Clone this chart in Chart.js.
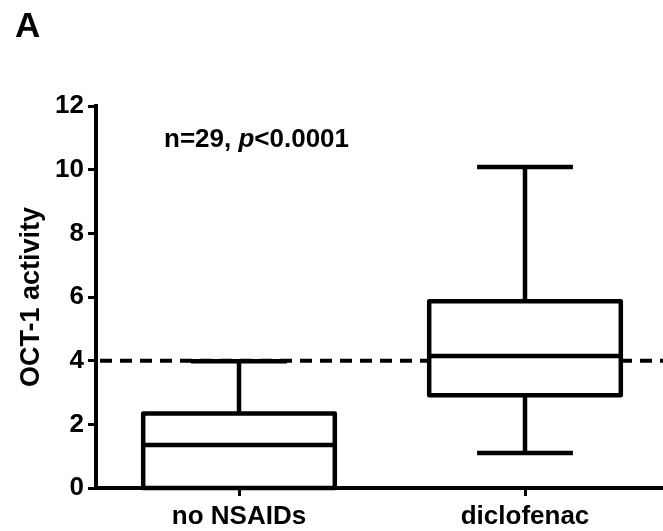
<!DOCTYPE html>
<html>
<head>
<meta charset="utf-8">
<title>OCT-1 activity</title>
<script src="https://cdn.jsdelivr.net/npm/chart.js@4"></script>
<style>
  html, body { margin: 0; padding: 0; background: #fff; overflow: hidden; }
  canvas { display: block; }
</style>
</head>
<body>
<canvas id="chartOct" width="668" height="531"></canvas>
<script>
// Section: Data

const categorias = ["no NSAIDs", "diclofenac"];
const minimos = [0, 1.1];
const cuartil1 = [0, 2.91];
const medianas = [1.35, 4.15];
const cuartil3 = [2.34, 5.87];
const maximos = [3.98, 10.08];
const umbral = 4;
const yTicks = [0, 2, 4, 6, 8, 10, 12];

const fuente = '"Liberation Sans", Arial, sans-serif';

// Section: Box plot drawing

const lineasCaja = {
  id: "lineasCaja",
  beforeDatasetsDraw(chart) {
    // dashed threshold line, hidden inside the boxes by their white fill
    const { ctx, chartArea } = chart;
    const y = chart.scales.y.getPixelForValue(umbral);
    ctx.save();
    ctx.strokeStyle = "#000";
    ctx.lineWidth = 4;
    ctx.setLineDash([12, 8]);
    ctx.beginPath();
    ctx.moveTo(chartArea.left + 4, y);
    ctx.lineTo(chartArea.right, y);
    ctx.stroke();
    ctx.restore();
  },
  afterDatasetsDraw(chart) {
    const { ctx } = chart;
    const escalaY = chart.scales.y;
    const meta = chart.getDatasetMeta(0);

    ctx.save();
    ctx.strokeStyle = "#000";
    ctx.lineWidth = 4.5;
    ctx.lineJoin = "round";

    meta.data.forEach((barra, i) => {
      const izq = barra.x - barra.width / 2;
      const der = barra.x + barra.width / 2;
      const tapa = barra.width * 0.25;
      const yQ1 = escalaY.getPixelForValue(cuartil1[i]);
      const yQ3 = escalaY.getPixelForValue(cuartil3[i]);
      const yMed = escalaY.getPixelForValue(medianas[i]);
      const yMin = escalaY.getPixelForValue(minimos[i]);
      const yMax = escalaY.getPixelForValue(maximos[i]);

      // box
      ctx.strokeRect(izq, yQ3, der - izq, yQ1 - yQ3);

      // median
      ctx.beginPath();
      ctx.moveTo(izq, yMed);
      ctx.lineTo(der, yMed);
      ctx.stroke();

      // upper whisker
      ctx.beginPath();
      ctx.moveTo(barra.x, yQ3);
      ctx.lineTo(barra.x, yMax);
      ctx.moveTo(barra.x - tapa, yMax);
      ctx.lineTo(barra.x + tapa, yMax);
      ctx.stroke();

      // lower whisker, only when it is below the box
      if (minimos[i] < cuartil1[i]) {
        ctx.beginPath();
        ctx.moveTo(barra.x, yQ1);
        ctx.lineTo(barra.x, yMin);
        ctx.moveTo(barra.x - tapa, yMin);
        ctx.lineTo(barra.x + tapa, yMin);
        ctx.stroke();
      }
    });
    ctx.restore();
  },
  afterDraw(chart) {
    const { ctx } = chart;
    ctx.save();
    ctx.fillStyle = "#000";
    ctx.textBaseline = "alphabetic";
    ctx.textAlign = "left";

    // panel letter
    ctx.font = `bold 35px ${fuente}`;
    ctx.fillText("A", 15, 37);

    // sample size and p value, p in italics
    let x = 164;
    const yTexto = 147;
    ctx.font = `bold 26px ${fuente}`;
    ctx.fillText("n=29, ", x, yTexto);
    x += ctx.measureText("n=29, ").width;
    ctx.font = `italic bold 26px ${fuente}`;
    ctx.fillText("p", x, yTexto);
    x += ctx.measureText("p").width;
    ctx.font = `bold 26px ${fuente}`;
    ctx.fillText("<0.0001", x, yTexto);
    ctx.restore();
  },
};

// Section: Chart

function renderChart() {
  const contexto = document.getElementById("chartOct").getContext("2d");

  new Chart(contexto, {
    type: "bar",
    data: {
      labels: categorias,
      datasets: [
        {
          data: categorias.map((_, i) => [cuartil1[i], cuartil3[i]]),
          backgroundColor: "#fff",
          borderWidth: 0,
          barPercentage: 0.67,
          categoryPercentage: 1,
        },
      ],
    },
    options: {
      responsive: false,
      animation: false,
      layout: { padding: { top: 106, right: 0, left: 0, bottom: 0 } },
      plugins: {
        legend: { display: false },
        tooltip: { enabled: false },
      },
      scales: {
        x: {
          offset: true,
          afterFit: (scale) => {
            scale.height = 43;
          },
          border: { display: true, color: "#000", width: 4 },
          grid: {
            offset: false,
            drawOnChartArea: false,
            tickLength: 8,
            tickWidth: 3,
            tickColor: "#000",
          },
          ticks: {
            color: "#000",
            padding: 5,
            font: { family: fuente, size: 26, weight: "bold" },
          },
        },
        y: {
          min: 0,
          max: 12,
          afterFit: (scale) => {
            scale.width = 96;
          },
          afterBuildTicks: (scale) => {
            scale.ticks = yTicks.map((v) => ({ value: v }));
          },
          border: { display: true, color: "#000", width: 4 },
          grid: {
            drawOnChartArea: false,
            tickLength: 8,
            tickWidth: 3,
            tickColor: "#000",
          },
          ticks: {
            color: "#000",
            padding: 4,
            font: { family: fuente, size: 26, weight: "bold" },
          },
          title: {
            display: true,
            text: "OCT-1 activity",
            color: "#000",
            padding: { top: 15, bottom: 0 },
            font: { family: fuente, size: 27, weight: "bold" },
          },
        },
      },
    },
    plugins: [lineasCaja],
  });
}

renderChart();
</script>
</body>
</html>
